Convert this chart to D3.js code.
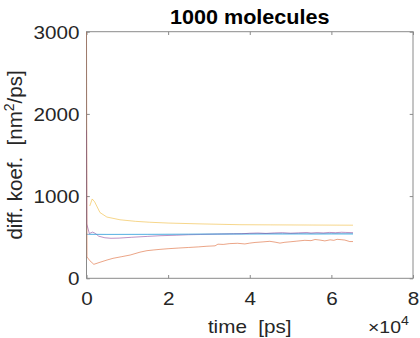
<!DOCTYPE html>
<html>
<head>
<meta charset="utf-8">
<script src="https://cdn.jsdelivr.net/npm/d3@7"></script>
<style>
html,body{margin:0;padding:0;background:#fff;}
svg{display:block;font-family:"Liberation Sans",Arial,Helvetica,sans-serif;}
svg text{white-space:pre;}
.axis text{fill:#262626;}
</style>
</head>
<body>
<div id="chart"></div>
<script>
/* Diffusion coefficient vs. simulation time, 1000 molecules.
   MATLAB-style box plot, five runs, x ticks in units of 1e4 ps. */
var xTicks=[0,20000,40000,60000,80000];
var yTicks=[0,1000,2000,3000];

var tBlue=[0,5000,15000,25000,32000,36000,40000,44000,48000,52000,56000,60000,65300];
var vBlue=[535,533,534,537,541,543,542,544,543,544,542,544,543];

var tOrange=[0,120,800,1800,3300,5000,6500,8500,10700,13100,14800,16500,18000,20000,22500,25000,27400,29500,31500,32200,33500,35100,37000,38800,40000,41300,43000,44900,46200,47400,48600,49900,51500,53500,55000,56000,57200,58400,59700,60600,61400,62400,63300,64500,65300];
var vOrange=[3000,260,215,170,195,222,243,262,283,318,336,345,352,360,368,375,382,390,395,415,412,422,426,418,428,436,442,450,440,428,438,444,452,462,458,472,465,455,468,462,474,470,465,447,447];

var tYellow=[800,1400,2000,3300,5000,8200,12000,15500,20000,27800,37600,45000,55000,65300];
var vYellow=[880,965,930,800,745,712,693,682,672,662,652,650,648,646];

var tPurple=[0,60,700,1500,2200,3000,4500,6000,8000,11000,15000,18000,22000,25000,28000,32000,35000,38000,40000,42000,44000,46000,48000,50000,52000,54000,55000,56500,58000,59500,61000,62500,63500,65300];
var vPurple=[1800,660,545,562,545,512,493,487,489,499,510,518,524,530,533,536,538,541,548,551,546,552,555,549,553,557,551,556,552,558,555,560,558,555];

var tCyan=[700,20000,40000,65300];
var vCyan=[535,535,535,535];

var series=[
    {t:tBlue,v:vBlue,color:"#0072BD"},
    {t:tOrange,v:vOrange,color:"#D95319"},
    {t:tYellow,v:vYellow,color:"#EDB120"},
    {t:tPurple,v:vPurple,color:"#7E2F8E"},
    {t:tCyan,v:vCyan,color:"#4DBEEE"}
];

var W=420,H=338, m={top:31.7,right:7,bottom:59.7,left:86.5};
var width=W-m.left-m.right, height=H-m.top-m.bottom;
var sx=1.18; // horizontal text stretch seen in the reference

var svg=d3.select("#chart").append("svg").attr("width",W).attr("height",H);
svg.append("defs").append("clipPath").attr("id","plotclip")
    .append("rect").attr("width",width).attr("height",height);
var g=svg.append("g").attr("transform","translate("+m.left+","+m.top+")");

var x=d3.scaleLinear().domain([0,80000]).range([0,width]);
var y=d3.scaleLinear().domain([0,3000]).range([height,0]);

// box + inward ticks on all four sides
var axisColor="#8a8a8a";
function styleAxis(sel){
    sel.select(".domain").remove();
    sel.selectAll(".tick line").attr("stroke",axisColor);
}
var ax=g.append("g").attr("class","axis").attr("transform","translate(0,"+height+")")
    .call(d3.axisBottom(x).tickValues(xTicks).tickSize(-3.3).tickPadding(0).tickFormat(function(d){return d/10000;}));
styleAxis(ax);
ax.selectAll("text").attr("font-size",17.5).attr("dy",null).attr("y",26.8).attr("transform","scale("+sx+",1)");
var axT=g.append("g").attr("class","axis")
    .call(d3.axisTop(x).tickValues(xTicks).tickSize(-3.3).tickFormat(""));
styleAxis(axT);
var ay=g.append("g").attr("class","axis")
    .call(d3.axisLeft(y).tickValues(yTicks).tickSize(-3.3).tickPadding(0).tickFormat(d3.format("d")));
styleAxis(ay);
ay.selectAll("text").attr("font-size",17.5).attr("x",-7/sx).attr("dy","0.36em").attr("transform","scale("+sx+",1)");
var ayR=g.append("g").attr("class","axis").attr("transform","translate("+width+",0)")
    .call(d3.axisRight(y).tickValues(yTicks).tickSize(-3.3).tickFormat(""));
styleAxis(ayR);
g.append("rect").attr("width",width).attr("height",height)
    .attr("fill","none").attr("stroke",axisColor).attr("stroke-width",1);

var line=d3.line().x(function(d){return x(d[0]);}).y(function(d){return y(d[1]);});
var lines=g.append("g").attr("clip-path","url(#plotclip)");
series.forEach(function(s){
    lines.append("path")
        .datum(s.t.map(function(t,i){return [t,s.v[i]];}))
        .attr("fill","none").attr("stroke",s.color).attr("stroke-width",0.7)
        .attr("stroke-opacity",0.75).attr("stroke-linejoin","round")
        .attr("d",line);
});

// title
svg.append("text").attr("transform","translate("+(m.left+width/2)+",23.5) scale(1.08,1)")
    .attr("text-anchor","middle").attr("font-size",20).attr("font-weight","bold")
    .attr("fill","#000").text("1000 molecules");

// axis titles
svg.append("text").attr("transform","translate("+(m.left+width/2)+",333) scale("+sx+",1)")
    .attr("text-anchor","middle").attr("font-size",17.5).attr("fill","#262626")
    .text("time  [ps]");
var yl=svg.append("text").attr("transform","translate(22,"+(m.top+height/2)+") rotate(-90)")
    .attr("text-anchor","middle").attr("font-size",20.5).attr("fill","#262626");
yl.append("tspan").text("diff. koef.  [nm");
yl.append("tspan").attr("font-size",14).attr("dy",-8).text("2");
yl.append("tspan").attr("dy",8).text("/ps]");

// exponent label
var ex=svg.append("text").attr("transform","translate(368,333) scale("+sx+",1)")
    .attr("font-size",16.5).attr("fill","#262626");
ex.append("tspan").text("\u00d710");
ex.append("tspan").attr("font-size",12).attr("dy",-8).text("4");
</script>
</body>
</html>
